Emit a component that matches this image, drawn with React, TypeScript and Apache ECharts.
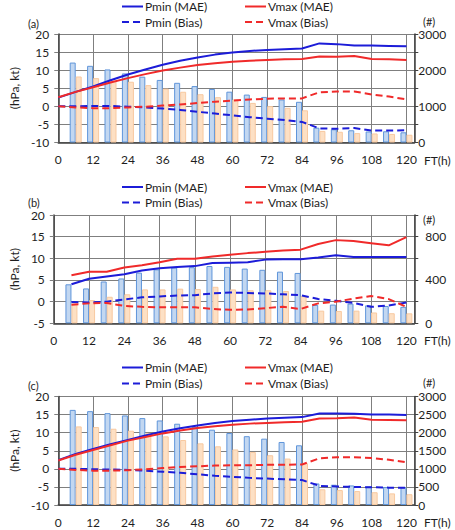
import React, { useEffect, useRef } from "react";
import * as echarts from "echarts";

// Forecast times (h)
const FT = [0, 6, 12, 18, 24, 30, 36, 42, 48, 54, 60, 66, 72, 78, 84, 90, 96, 102, 108, 114, 120];
const FT_BARS = [6, 12, 18, 24, 30, 36, 42, 48, 54, 60, 66, 72, 78, 84, 90, 96, 102, 108, 114, 120];

// (a)
const aPminMAE = [2.4, 4.0, 5.5, 7.2, 8.8, 10.2, 11.5, 12.6, 13.5, 14.3, 14.9, 15.3, 15.6, 15.8, 16.0, 17.4, 17.2, 16.8, 16.8, 16.7, 16.6];
const aVmaxMAE = [2.5, 4.0, 5.3, 6.6, 7.8, 8.9, 9.9, 10.7, 11.4, 11.9, 12.3, 12.6, 12.8, 13.0, 13.1, 13.8, 13.7, 13.9, 13.1, 13.0, 12.8];
const aPminBias = [0.0, 0.0, 0.1, 0.1, -0.1, -0.3, -0.6, -1.0, -1.5, -2.0, -2.5, -3.0, -3.4, -3.8, -4.3, -6.1, -6.2, -6.0, -6.7, -6.7, -6.6];
const aVmaxBias = [0.0, -0.3, -0.5, -0.5, -0.3, -0.1, 0.2, 0.5, 0.9, 1.3, 1.6, 1.9, 2.1, 2.2, 2.2, 3.9, 4.1, 4.1, 3.3, 2.7, 1.9];
const aCount1 = [2210, 2120, 2020, 1910, 1820, 1730, 1650, 1560, 1480, 1405, 1325, 1260, 1190, 1125, 410, 365, 338, 305, 310, 282];
const aCount2 = [1825, 1780, 1710, 1680, 1586, 1490, 1403, 1335, 1253, 1190, 1095, 1005, 960, 890, 320, 297, 260, 250, 237, 215];

// (b) — lines start at FT 6
const bPminMAE = [4.0, 5.3, 5.8, 6.3, 7.2, 7.7, 8.0, 8.2, 8.9, 9.0, 9.1, 9.7, 9.8, 9.8, 10.2, 10.7, 10.3, 10.3, 10.3, 10.3];
const bVmaxMAE = [6.1, 6.9, 6.9, 7.9, 8.4, 9.1, 9.9, 9.9, 10.4, 10.8, 11.2, 11.5, 11.8, 12.0, 13.3, 14.2, 14.0, 13.5, 13.0, 14.9];
const bPminBias = [-0.1, -0.2, 0.0, 0.5, 1.0, 1.2, 1.4, 1.5, 1.9, 2.1, 2.0, 1.9, 1.7, 1.5, 0.6, 0.2, -0.3, -1.2, -0.9, -0.2];
const bVmaxBias = [-0.7, -0.4, -0.3, -1.0, -1.2, -1.3, -1.3, -1.3, -1.7, -1.9, -1.8, -1.5, -1.2, -1.7, -0.4, 0.0, 0.7, 1.3, 0.6, -1.2];
const bCount1 = [360, 322, 386, 414, 468, 498, 515, 518, 529, 521, 505, 494, 477, 465, 169, 173, 182, 166, 160, 152];
const bCount2 = [180, 214, 245, 268, 313, 313, 320, 316, 337, 313, 305, 305, 298, 250, 117, 114, 117, 100, 93, 92];

// (c)
const cPminMAE = [2.4, 4.1, 5.5, 6.8, 8.0, 9.2, 10.3, 11.2, 12.0, 12.7, 13.2, 13.6, 13.9, 14.1, 14.3, 15.3, 15.3, 15.2, 15.0, 15.0, 14.9];
const cVmaxMAE = [2.3, 3.9, 5.2, 6.5, 7.8, 8.8, 9.8, 10.6, 11.3, 11.8, 12.2, 12.5, 12.7, 12.9, 13.0, 13.9, 14.0, 14.2, 13.6, 13.5, 13.4];
const cPminBias = [0.0, 0.0, -0.1, -0.2, -0.3, -0.5, -0.8, -1.1, -1.5, -1.9, -2.2, -2.5, -2.7, -2.9, -3.1, -4.7, -4.9, -5.0, -5.1, -5.2, -5.2];
const cVmaxBias = [0.0, -0.3, -0.5, -0.5, -0.4, -0.1, 0.2, 0.5, 0.7, 0.9, 1.0, 1.0, 1.1, 1.1, 1.2, 2.9, 3.2, 3.2, 3.0, 2.5, 1.8];
const cCount1 = [2630, 2595, 2540, 2476, 2403, 2338, 2247, 2160, 2082, 1990, 1903, 1834, 1742, 1651, 596, 560, 541, 513, 495, 490];
const cCount2 = [2173, 2155, 2109, 2055, 1985, 1898, 1797, 1705, 1623, 1536, 1467, 1376, 1284, 1155, 435, 413, 385, 353, 321, 298];

const NAMES = ["Pmin (MAE)", "Vmax (MAE)", "Pmin (Bias)", "Vmax (Bias)"];

const FONT = 'Lato, "Noto Sans", sans-serif';
const TXT = "#1e1e1e";
const GRIDC = "#7f7f7f";
const BLUE = "#1c1cd8";
const RED = "#f02a2a";

const panels = [
  { tag: "(a)", top: 34, height: 108.5, yMin: -10, rMax: 3000, rInt: 500, rStep: 1000, rMargin: 4,
    lineFT: FT, pm: aPminMAE, vm: aVmaxMAE, pb: aPminBias, vb: aVmaxBias, c1: aCount1, c2: aCount2,
    leg1: 7.5, leg2: 23, tagY: 23, hashY: 21 },
  { tag: "(b)", top: 215, height: 108.3, yMin: -5, rMax: 1000, rInt: 200, rStep: 400, rMargin: 11,
    lineFT: FT_BARS, pm: bPminMAE, vm: bVmaxMAE, pb: bPminBias, vb: bVmaxBias, c1: bCount1, c2: bCount2,
    leg1: 188, leg2: 203.5, tagY: 202, hashY: 219 },
  { tag: "(c)", top: 396.5, height: 108.5, yMin: -10, rMax: 3000, rInt: 500, rStep: 500, rMargin: 4,
    lineFT: FT, pm: cPminMAE, vm: cVmaxMAE, pb: cPminBias, vb: cVmaxBias, c1: cCount1, c2: cCount2,
    leg1: 368.5, leg2: 384.5, tagY: 385, hashY: 382 },
];

const GRID_LEFT = 42.3;
const GRID_RIGHT_X = 414.3;
const X_MAX = 122.7;

function buildOption() {
  const grid: any[] = [];
  const xAxis: any[] = [];
  const yAxis: any[] = [];
  const series: any[] = [];
  const legend: any[] = [];
  const graphic: any[] = [];

  panels.forEach((p, i) => {
    grid.push({ left: GRID_LEFT, top: p.top, width: GRID_RIGHT_X - GRID_LEFT, height: p.height });
    xAxis.push({
      type: "value", gridIndex: i, min: 0, max: X_MAX, interval: 12,
      axisLine: { show: true, onZero: false, lineStyle: { color: "#404040", width: 1.5 } },
      axisTick: { show: false },
      axisLabel: {
        margin: 11, fontSize: 12, color: TXT, fontFamily: FONT,
        formatter: (v: number) => (Math.abs(v % 12) < 1e-6 ? String(v) : ""),
      },
      splitLine: { show: true, lineStyle: { color: GRIDC, width: 1 } },
    });
    yAxis.push({
      type: "value", gridIndex: i, min: p.yMin, max: 20, interval: 5, position: "left",
      axisLine: { show: true, onZero: false, lineStyle: { color: "#404040", width: 1.5 } },
      axisTick: { show: true, length: 4, lineStyle: { color: GRIDC } },
      axisLabel: { margin: 9, fontSize: 12, color: TXT, fontFamily: FONT },
      splitLine: { show: true, lineStyle: { color: GRIDC, width: 1 } },
      name: "(hPa, kt)", nameLocation: "middle", nameGap: 28,
      nameTextStyle: { fontSize: 12, color: TXT, fontFamily: FONT },
    });
    yAxis.push({
      type: "value", gridIndex: i, min: 0, max: p.rMax, interval: p.rInt, position: "right",
      axisLine: { show: true, onZero: false, lineStyle: { color: "#404040", width: 1.5 } },
      axisTick: { show: true, length: 4, lineStyle: { color: "#404040" } },
      axisLabel: {
        margin: p.rMargin, fontSize: 12, color: TXT, fontFamily: FONT,
        formatter: (v: number) => (v % p.rStep === 0 && v <= p.rMax - (p.rMax === 1000 ? 1 : 0) ? String(v) : ""),
      },
      splitLine: { show: false },
    });

    const yl = 2 * i;
    const yr = 2 * i + 1;
    series.push({
      type: "bar", xAxisIndex: i, yAxisIndex: yr, barWidth: 6, barGap: "0%",
      data: FT_BARS.map((t, k) => [t, p.c1[k]]),
      itemStyle: { color: "#c2d7f1", borderColor: "#5f95da", borderWidth: 1 },
    });
    series.push({
      type: "bar", xAxisIndex: i, yAxisIndex: yr, barWidth: 6, barGap: "0%",
      data: FT_BARS.map((t, k) => [t, p.c2[k]]),
      itemStyle: { color: "#fde0c4", borderColor: "#f8c9a0", borderWidth: 1 },
    });
    const lines = [
      { name: NAMES[0], vals: p.pm, color: BLUE, type: "solid" },
      { name: NAMES[1], vals: p.vm, color: RED, type: "solid" },
      { name: NAMES[2], vals: p.pb, color: BLUE, type: [7, 4] },
      { name: NAMES[3], vals: p.vb, color: RED, type: [7, 4] },
    ];
    lines.forEach((l) => {
      series.push({
        type: "line", name: l.name, xAxisIndex: i, yAxisIndex: yl,
        data: p.lineFT.map((t, k) => [t, l.vals[k]]),
        symbol: "none", color: l.color,
        lineStyle: { color: l.color, width: 2, type: l.type },
      });
    });

    // legend: two rows, two columns
    const spots = [
      { name: NAMES[0], x: 121, y: p.leg1 },
      { name: NAMES[1], x: 244, y: p.leg1 },
      { name: NAMES[2], x: 121, y: p.leg2 },
      { name: NAMES[3], x: 244, y: p.leg2 },
    ];
    spots.forEach((s) => {
      legend.push({
        left: s.x, top: s.y - 7, padding: 0, itemWidth: 21, itemHeight: 14,
        selectedMode: false, data: [s.name],
        itemStyle: { opacity: 0 },
        textStyle: { fontSize: 12, color: TXT, fontFamily: FONT, padding: [0, 0, 0, -3] },
      });
    });

    graphic.push({
      type: "text", x: 28, y: p.tagY,
      style: { text: p.tag, font: `11px ${FONT}`, fill: TXT, verticalAlign: "middle", textVerticalAlign: "middle" },
    });
    graphic.push({
      type: "text", x: 423, y: p.hashY,
      style: { text: "(#)", font: `11px ${FONT}`, fill: TXT, verticalAlign: "middle", textVerticalAlign: "middle" },
    });
    const axisBottom = p.top + p.height;
    graphic.push({
      type: "text", x: 424, y: axisBottom + 17.5,
      style: { text: "FT(h)", font: `12px ${FONT}`, fill: TXT, verticalAlign: "middle", textVerticalAlign: "middle" },
    });
  });

  return { animation: false, textStyle: { fontFamily: FONT }, grid, xAxis, yAxis, series, legend, graphic };
}

export default function App() {
  const ref = useRef<HTMLDivElement>(null);
  useEffect(() => {
    if (!ref.current) return;
    const chart = echarts.init(ref.current, undefined, { renderer: "svg" });
    chart.setOption(buildOption());
    return () => chart.dispose();
  }, []);
  return (
    <div
      ref={ref}
      style={{ position: "absolute", left: 0, top: 0, width: 455, height: 530, background: "#fff" }}
    />
  );
}
